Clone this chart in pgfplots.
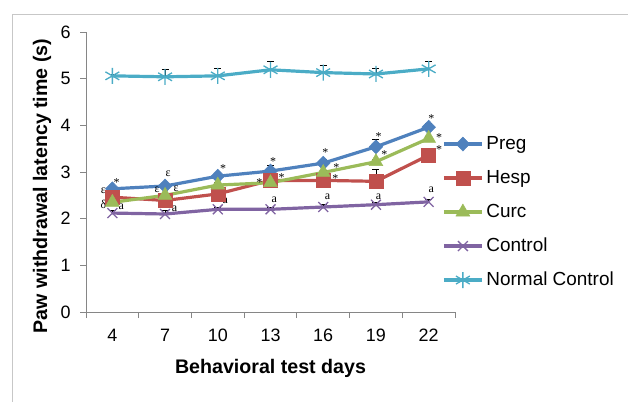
\documentclass[border=0pt]{standalone}
\usepackage{fontspec}
\setmainfont{Liberation Sans}
\newfontfamily\serifann{Liberation Serif}
\usepackage{pgfplots}
\pgfplotsset{compat=1.18}
\definecolor{cPreg}{HTML}{4F81BD}
\definecolor{cHesp}{HTML}{C0504D}
\definecolor{cCurc}{HTML}{9BBB59}
\definecolor{cCont}{HTML}{8064A2}
\definecolor{cNorm}{HTML}{4BACC6}
\definecolor{axgray}{HTML}{868686}
\tikzset{st/.style={yshift=-2.5bp}, an/.style={font=\serifann\fontsize{12}{12}\selectfont, inner sep=0pt}}
\begin{document}
\begin{tikzpicture}[x=1bp,y=1bp]
\path[use as bounding box] (0,0) rectangle (628,401);
\draw[black!22, line width=0.8bp] (12,-10) -- (12,387) -- (650,387);
\begin{axis}[
  at={(86bp,89bp)}, anchor=south west, scale only axis,
  width=369bp, height=280bp,
  xmin=-0.5, xmax=6.5, ymin=0, ymax=6,
  clip=false,
  axis lines=left,
  axis line style={-, axgray, line width=0.8bp},
  xtick={0,1,2,3,4,5,6},
  xticklabels={4,7,10,13,16,19,22},
  minor xtick={-0.5,0.5,1.5,2.5,3.5,4.5,5.5,6.5},
  ytick={0,1,2,3,4,5,6},
  major x tick style={draw=none},
  tick style={axgray, line width=0.8bp},
  major tick length=6bp, minor tick length=6bp,
  tick align=outside,
  tick label style={font=\fontsize{18}{18}\selectfont},
  /pgf/number format/assume math mode=true,
  xticklabel style={anchor=center, yshift=-17bp},
  yticklabel style={anchor=east, xshift=-6bp},
  xlabel={\bfseries Behavioral test days},
  ylabel={\bfseries Paw withdrawal latency time (s)},
  label style={font=\fontsize{19.7}{19.7}\selectfont},
  xlabel style={at={(axis description cs:0.5,0)}, anchor=center, yshift=-56bp},
  ylabel style={at={(axis description cs:0,0.5)}, anchor=center, rotate=0, yshift=44bp, xshift=-14bp},
  legend style={draw=none, fill=none, at={(axis description cs:0.965,0.357)}, anchor=west,
    font=\fontsize{19}{19}\selectfont, row sep=16bp, inner sep=0pt,
    nodes={inner xsep=3bp, inner ysep=0bp, text height=14bp, text depth=4bp}},
  legend cell align=left,
  legend image code/.code={\draw[mark repeat=2,mark phase=2] plot coordinates {(0bp,0bp)(19bp,0bp)(38bp,0bp)};},
  every axis plot/.append style={line width=3.2bp},
  error bars/y dir=plus, error bars/y explicit,
  error bars/error bar style={black, line width=0.8bp},
  error bars/error mark options={black, line width=0.8bp, mark size=3.5bp, rotate=90},
]
\addplot[cPreg, mark=diamond*, mark size=7bp, mark options={fill=cPreg, line width=0.5bp, xscale=1.3}]
  coordinates {(0,2.64) +- (0,0.05) (1,2.70) +- (0,0.05) (2,2.91) +- (0,0.06) (3,3.02) +- (0,0.12) (4,3.19) +- (0,0.08) (5,3.54) +- (0,0.15) (6,3.96) +- (0,0.08)};
\addlegendentry{Preg}
\addplot[cHesp, mark=square*, mark size=7bp, mark options={fill=cHesp, line width=0.5bp}]
  coordinates {(0,2.46) +- (0,0.06) (1,2.39) +- (0,0.06) (2,2.53) +- (0,0.05) (3,2.82) +- (0,0.10) (4,2.82) +- (0,0.05) (5,2.80) +- (0,0.25) (6,3.36) +- (0,0.07)};
\addlegendentry{Hesp}
\addplot[cCurc, mark=triangle*, mark size=8bp, mark options={fill=cCurc, line width=0.5bp}]
  coordinates {(0,2.35) +- (0,0.05) (1,2.50) +- (0,0.05) (2,2.72) +- (0,0.05) (3,2.77) +- (0,0.05) (4,2.99) +- (0,0.05) (5,3.22) +- (0,0.05) (6,3.72) +- (0,0.05)};
\addlegendentry{Curc}
\addplot[cCont, mark=x, mark size=7bp, mark options={line width=1.3bp}]
  coordinates {(0,2.12) +- (0,0.05) (1,2.10) +- (0,0.08) (2,2.20) +- (0,0.05) (3,2.20) +- (0,0.05) (4,2.25) +- (0,0.05) (5,2.30) +- (0,0.05) (6,2.36) +- (0,0.05)};
\addlegendentry{Control}
\addplot[cNorm, mark=asterisk, mark size=8bp, mark options={line width=1.3bp}]
  coordinates {(0,5.06) +- (0,0.03) (1,5.04) +- (0,0.16) (2,5.06) +- (0,0.16) (3,5.19) +- (0,0.17) (4,5.13) +- (0,0.16) (5,5.10) +- (0,0.13) (6,5.21) +- (0,0.17)};
\addlegendentry{Normal Control}
\node[an,st] at (axis cs:0.08,2.83) {*};
\node[an] at (axis cs:-0.17,2.60) {ε};
\node[an] at (axis cs:-0.17,2.31) {δ};
\node[an] at (axis cs:0.17,2.26) {a};
\node[an] at (axis cs:1.06,2.96) {ε};
\node[an] at (axis cs:0.85,2.61) {ε};
\node[an] at (axis cs:1.21,2.65) {ε};
\node[an] at (axis cs:1.18,2.21) {a};
\node[an,st] at (axis cs:2.1,3.13) {*};
\node[an] at (axis cs:2.14,2.38) {a};
\node[an,st] at (axis cs:3.05,3.27) {*};
\node[an,st] at (axis cs:2.79,2.83) {*};
\node[an,st] at (axis cs:3.21,2.94) {*};
\node[an] at (axis cs:3.07,2.40) {a};
\node[an,st] at (axis cs:4.04,3.46) {*};
\node[an,st] at (axis cs:4.25,3.15) {*};
\node[an,st] at (axis cs:4.23,2.92) {*};
\node[an] at (axis cs:4.08,2.46) {a};
\node[an,st] at (axis cs:5.05,3.81) {*};
\node[an,st] at (axis cs:5.16,3.42) {*};
\node[an] at (axis cs:5.05,2.46) {a};
\node[an,st] at (axis cs:6.05,4.20) {*};
\node[an,st] at (axis cs:6.2,3.79) {*};
\node[an,st] at (axis cs:6.2,3.54) {*};
\node[an] at (axis cs:6.05,2.63) {a};
\end{axis}
\end{tikzpicture}
\end{document}
